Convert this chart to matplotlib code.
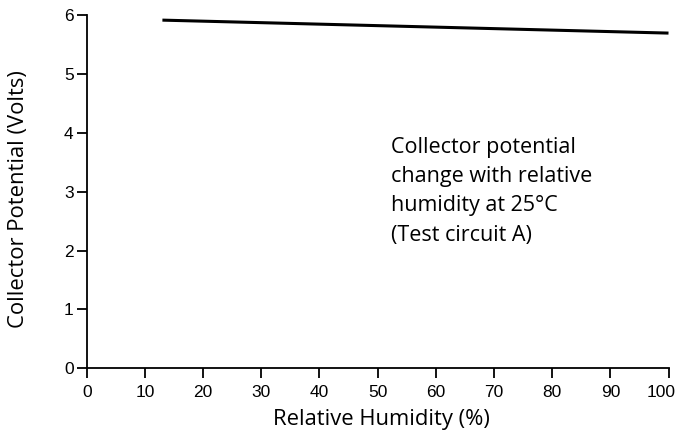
import matplotlib
matplotlib.use("Agg")
import matplotlib.pyplot as plt
from matplotlib.transforms import ScaledTranslation

# values
humidity = [13, 100]
potential = [5.91, 5.69]
x_ticks = [0, 10, 20, 30, 40, 50, 60, 70, 80, 90, 100]
y_ticks = [0, 1, 2, 3, 4, 5, 6]

fig = plt.figure(figsize=(6.78, 4.36), dpi=100)
ax = fig.add_axes([0.128, 0.155, 0.858, 0.811])

ax.plot(humidity, potential, color="black", linewidth=2.2, solid_capstyle="butt")

ax.set_xlim(0, 100)
ax.set_ylim(0, 6)
ax.set_xticks(x_ticks)
ax.set_yticks(y_ticks)
ax.tick_params(direction="out", length=7, width=1.3, colors="black",
               labelsize=12.5, labelfontfamily="Liberation Sans")
ax.tick_params(axis="x", pad=5)
ax.tick_params(axis="y", pad=2.5)

# last x label sits a bit to the left so it stays inside the figure
last = ax.get_xticklabels()[-1]
last.set_transform(last.get_transform() + ScaledTranslation(-7 / 100, 0, fig.dpi_scale_trans))

for side in ["top", "right"]:
    ax.spines[side].set_visible(False)
for side in ["left", "bottom"]:
    ax.spines[side].set_linewidth(1.3)

ax.set_xlabel("Relative Humidity (%)", family="Open Sans", fontsize=15.8)
ax.set_ylabel("Collector Potential (Volts)", family="Open Sans", fontsize=15.8)
ax.xaxis.set_label_coords(0.506, -0.115)
ax.yaxis.set_label_coords(-0.1, 0.479)

ax.text(52.3, 3.93, "Collector potential\nchange with relative\nhumidity at 25°C\n(Test circuit A)",
        family="Open Sans", fontsize=15.5, va="top", ha="left", linespacing=1.52)

fig.savefig("out.png", dpi=100)
